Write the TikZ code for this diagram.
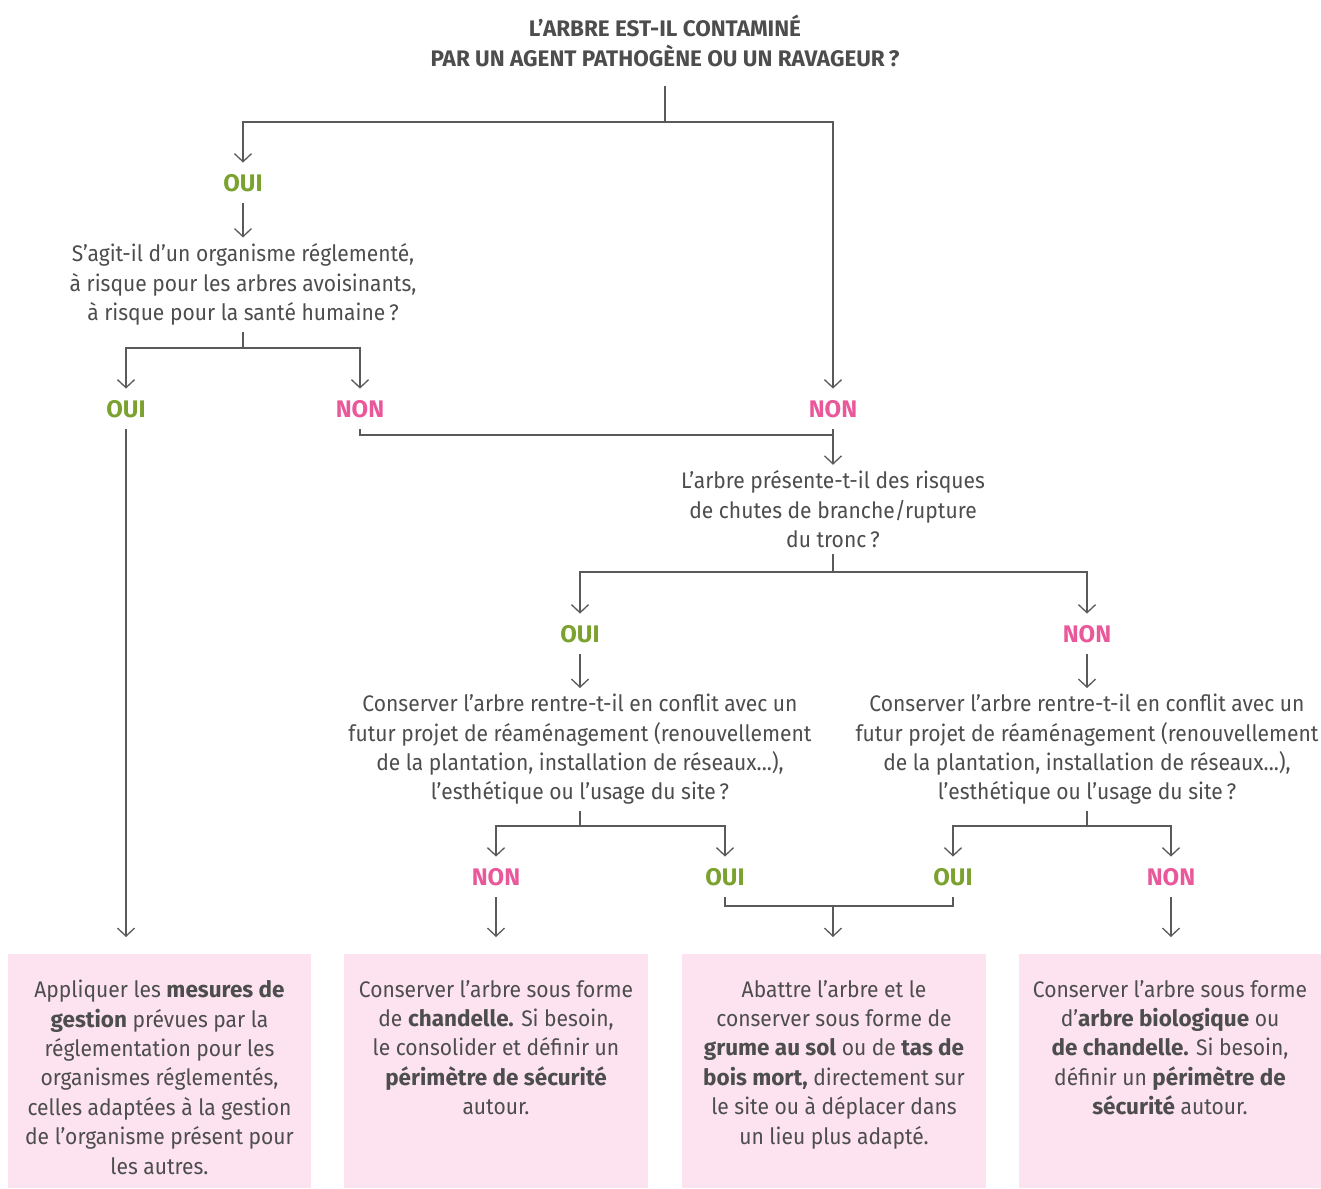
\documentclass[tikz,border=0pt]{standalone}
\usepackage{fontspec}
\setmainfont{Fira Sans}[FakeStretch=0.935]
\newfontfamily\plainff{Fira Sans}
\newcommand\B[1]{{\plainff\bfseries #1}}
\usetikzlibrary{arrows.meta}
\definecolor{txtgray}{HTML}{4D4D4D}
\definecolor{lngray}{HTML}{5A5A5A}
\definecolor{ouigreen}{HTML}{7BA22F}
\definecolor{nonpink}{HTML}{E9589A}
\definecolor{boxpink}{HTML}{FCE3EF}
\tikzset{
  txt/.style={text=txtgray, align=center, inner xsep=0pt, inner ysep=6pt},
  title/.style={txt, font=\fontsize{22.5}{30}\selectfont\plainff\bfseries, inner ysep=19pt},
  lbl/.style={font=\fontsize{24}{29.4}\selectfont\plainff\bfseries, inner xsep=0pt, inner ysep=11.5pt},
  oui/.style={lbl, text=ouigreen},
  non/.style={lbl, text=nonpink},
  box/.style={fill=boxpink, draw=none, inner sep=0pt, anchor=north west},
  boxtxt/.style={text=txtgray, align=center, inner sep=0pt, anchor=north},
  ln/.style={draw=lngray, line width=1.3pt},
  arr/.style={ln, -{Straight Barb[length=8pt, width=17pt, line width=1.3pt]}}
}
\begin{document}
\begin{tikzpicture}[x=1pt, y=-1pt, font=\fontsize{22.5}{29.4}\selectfont]
\useasboundingbox (0,0) rectangle (1321,1188);
% nodes
\node[title] (title) at (665,40.5) {L’ARBRE EST-IL CONTAMINÉ\\PAR UN AGENT PATHOGÈNE OU UN RAVAGEUR\,?};
\node[oui] (oui1) at (243,183) {OUI};
\node[txt] (q1) at (243,284.5) {S’agit-il d’un organisme réglementé,\\à risque pour les arbres avoisinants,\\à risque pour la santé humaine\,?};
\node[oui] (oui2) at (126,409) {OUI};
\node[non] (non2) at (360,409) {NON};
\node[non] (non1) at (833,409) {NON};
\node[txt] (q2) at (833,509.5) {L’arbre présente-t-il des risques\\de chutes de branche/rupture\\du tronc\,?};
\node[oui] (oui3) at (580,634) {OUI};
\node[non] (non3) at (1087,634) {NON};
\node[txt] (q3) at (580,749.5) {Conserver l’arbre rentre-t-il en conflit avec un\\futur projet de réaménagement (renouvellement\\de la plantation, installation de réseaux...),\\l’esthétique ou l’usage du site\,?};
\node[txt] (q4) at (1087,749.5) {Conserver l’arbre rentre-t-il en conflit avec un\\futur projet de réaménagement (renouvellement\\de la plantation, installation de réseaux...),\\l’esthétique ou l’usage du site\,?};
\node[non] (non4) at (496,877) {NON};
\node[oui] (oui4) at (725,877) {OUI};
\node[oui] (oui5) at (953,877) {OUI};
\node[non] (non5) at (1171,877) {NON};
% boxes
\node[box, minimum width=303pt, minimum height=234pt] (b1) at (8,954) {};
\node[box, minimum width=304pt, minimum height=234pt] (b2) at (344,954) {};
\node[box, minimum width=304pt, minimum height=234pt] (b3) at (682,954) {};
\node[box, minimum width=302pt, minimum height=234pt] (b4) at (1019,954) {};
\node[boxtxt] (t1) at (159.5,980) {Appliquer les \B{mesures de}\\\B{gestion} prévues par la\\réglementation pour les\\organismes réglementés,\\celles adaptées à la gestion\\de l’organisme présent pour\\les autres.};
\node[boxtxt] (t2) at (496,980) {Conserver l’arbre sous forme\\de \B{chandelle.} Si besoin,\\le consolider et définir un\\\B{périmètre de sécurité}\\autour.};
\node[boxtxt] (t3) at (834,980) {Abattre l’arbre et le\\conserver sous forme de\\\B{grume au sol} ou de \B{tas de}\\\B{bois mort,} directement sur\\le site ou à déplacer dans\\un lieu plus adapté.};
\node[boxtxt] (t4) at (1170,980) {Conserver l’arbre sous forme\\d’\B{arbre biologique} ou\\\B{de chandelle.} Si besoin,\\définir un \B{périmètre de}\\\B{sécurité} autour.};
% junctions
\coordinate (j0) at (665,122);
\coordinate (j1) at (243,348);
\coordinate (j2) at (833,435);
\coordinate (j3) at (833,572);
\coordinate (j4) at (580,826);
\coordinate (j5) at (1087,826);
\coordinate (j6) at (833,906);
% connectors
\draw[ln] (title.south) -- (j0);
\draw[arr] (j0) -| (oui1.north);
\draw[arr] (j0) -| (non1.north);
\draw[arr] (oui1.south) -- (q1.north);
\draw[ln] (q1.south) -- (j1);
\draw[arr] (j1) -| (oui2.north);
\draw[arr] (j1) -| (non2.north);
\draw[arr] (oui2.south) -- ([yshift=17pt]oui2.south |- b1.north);
\draw[ln] (non2.south) |- (j2);
\draw[arr] (non1.south) -- (q2.north);
\draw[ln] (q2.south) -- (j3);
\draw[arr] (j3) -| (oui3.north);
\draw[arr] (j3) -| (non3.north);
\draw[arr] (oui3.south) -- (q3.north);
\draw[arr] (non3.south) -- (q4.north);
\draw[ln] (q3.south) -- (j4);
\draw[arr] (j4) -| (non4.north);
\draw[arr] (j4) -| (oui4.north);
\draw[ln] (q4.south) -- (j5);
\draw[arr] (j5) -| (oui5.north);
\draw[arr] (j5) -| (non5.north);
\draw[arr] (non4.south) -- ([yshift=17pt]non4.south |- b2.north);
\draw[ln] (oui4.south) |- (j6) -| (oui5.south);
\draw[arr] (j6) -- ([yshift=17pt]j6 |- b3.north);
\draw[arr] (non5.south) -- ([yshift=17pt]non5.south |- b4.north);
\end{tikzpicture}
\end{document}
